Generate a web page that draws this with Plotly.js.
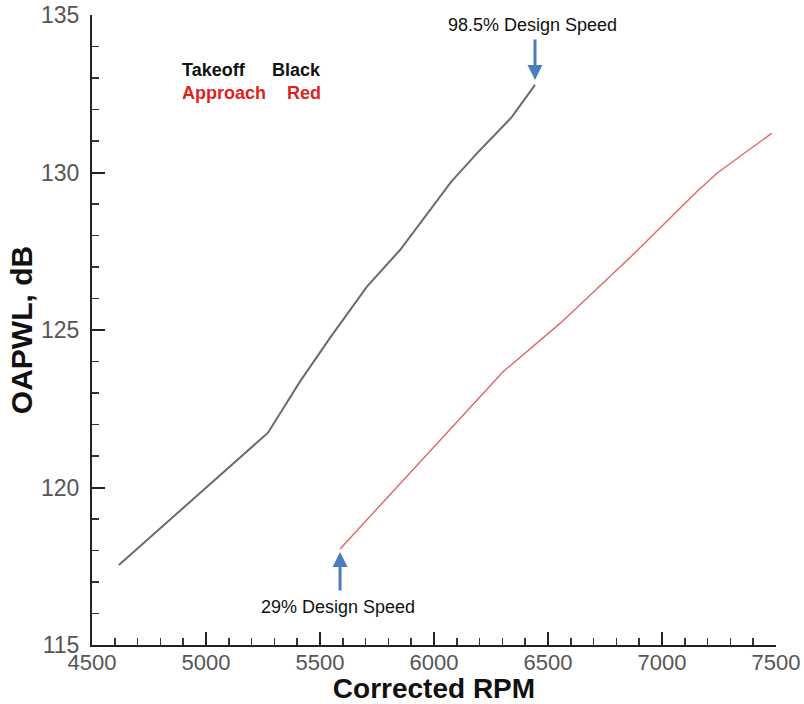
<!DOCTYPE html>
<html>
<head>
<meta charset="utf-8">
<script src="https://cdn.plot.ly/plotly-3.0.1.min.js"></script>
<style>html,body{margin:0;padding:0;background:#fff}#chart{width:804px;height:704px}</style>
</head>
<body>
<div id="chart"></div>
<script>
// Takeoff (black) series
const takeoffRPM = [4618, 5135, 5272, 5412, 5544, 5705, 5851, 6075, 6187, 6340, 6443];
const takeoffDB  = [117.54, 120.85, 121.74, 123.36, 124.75, 126.37, 127.54, 129.7, 130.6, 131.75, 132.78];
// Approach (red) series
const approachRPM = [5588, 6304, 6553, 6860, 7152, 7245, 7481];
const approachDB  = [118.05, 123.68, 125.21, 127.3, 129.39, 130.0, 131.24];

const xTitle = "Corrected RPM";
const yTitle = "OAPWL, dB";
const topNote = "98.5% Design Speed";
const bottomNote = "29% Design Speed";

const FONT = "Liberation Sans, Arial, Helvetica, sans-serif";
const arrowColor = "#4a7ebb";

const traces = [
  {x: takeoffRPM, y: takeoffDB, mode: "lines", line: {color: "#6b6b6b", width: 2}, name: "Takeoff", hoverinfo: "skip"},
  {x: approachRPM, y: approachDB, mode: "lines", line: {color: "#e26464", width: 1.4}, name: "Approach", hoverinfo: "skip"}
];

const layout = {
  width: 804, height: 704,
  margin: {l: 92, r: 28, t: 15, b: 59},
  paper_bgcolor: "#fff", plot_bgcolor: "#fff",
  showlegend: false,
  font: {family: FONT, color: "#555"},
  xaxis: {
    range: [4500, 7500], dtick: 500, tick0: 4500,
    showgrid: false, zeroline: false,
    showline: true, linecolor: "#222", linewidth: 2,
    ticks: "inside", ticklen: 13, tickwidth: 2, tickcolor: "#222",
    minor: {dtick: 100, ticks: "inside", ticklen: 7, tickwidth: 1.5, tickcolor: "#333", showgrid: false},
    tickfont: {size: 22, color: "#555", family: FONT},
    ticklabelstandoff: -3,
    title: {text: xTitle, font: {size: 28, color: "#111", family: FONT, weight: "bold"}, standoff: 1},
    automargin: false
  },
  yaxis: {
    range: [115, 135], dtick: 5, tick0: 115,
    showgrid: false, zeroline: false,
    showline: true, linecolor: "#222", linewidth: 2,
    ticks: "inside", ticklen: 13, tickwidth: 2, tickcolor: "#222",
    minor: {dtick: 1, ticks: "inside", ticklen: 7, tickwidth: 1.5, tickcolor: "#333", showgrid: false},
    tickfont: {size: 23, color: "#555", family: FONT},
    ticklabelstandoff: 6,
    title: {text: yTitle, font: {size: 30, color: "#111", family: FONT, weight: "bold"}, standoff: 0},
    automargin: false
  },
  annotations: [
    {x: 4886, y: 133.24, xref: "x", yref: "y", text: "<b>Takeoff</b>", showarrow: false, xanchor: "left", yanchor: "middle",
     font: {size: 18, color: "#111", family: FONT}},
    {x: 5513, y: 133.24, xref: "x", yref: "y", text: "<b>Black</b>", showarrow: false, xanchor: "right", yanchor: "middle",
     font: {size: 18, color: "#111", family: FONT}},
    {x: 4886, y: 132.52, xref: "x", yref: "y", text: "<b>Approach</b>", showarrow: false, xanchor: "left", yanchor: "middle",
     font: {size: 18, color: "#e01f1f", family: FONT}},
    {x: 5513, y: 132.52, xref: "x", yref: "y", text: "<b>Red</b>", showarrow: false, xanchor: "right", yanchor: "middle",
     font: {size: 18, color: "#e01f1f", family: FONT}},
    {x: 6434, y: 134.68, xref: "x", yref: "y", text: topNote, showarrow: false, xanchor: "center", yanchor: "middle",
     font: {size: 18, color: "#111", family: FONT}},
    {x: 5580, y: 116.2, xref: "x", yref: "y", text: bottomNote, showarrow: false, xanchor: "center", yanchor: "middle",
     font: {size: 18, color: "#111", family: FONT}},
    {x: 6443, y: 132.94, xref: "x", yref: "y", text: "", showarrow: true, ax: 0, ay: -42,
     arrowcolor: arrowColor, arrowwidth: 3, arrowhead: 2, arrowsize: 1, standoff: 0},
    {x: 5588, y: 117.95, xref: "x", yref: "y", text: "", showarrow: true, ax: 0, ay: 40,
     arrowcolor: arrowColor, arrowwidth: 3, arrowhead: 2, arrowsize: 1, standoff: 0}
  ]
};

Plotly.newPlot("chart", traces, layout, {staticPlot: true, displayModeBar: false});
</script>
</body>
</html>
